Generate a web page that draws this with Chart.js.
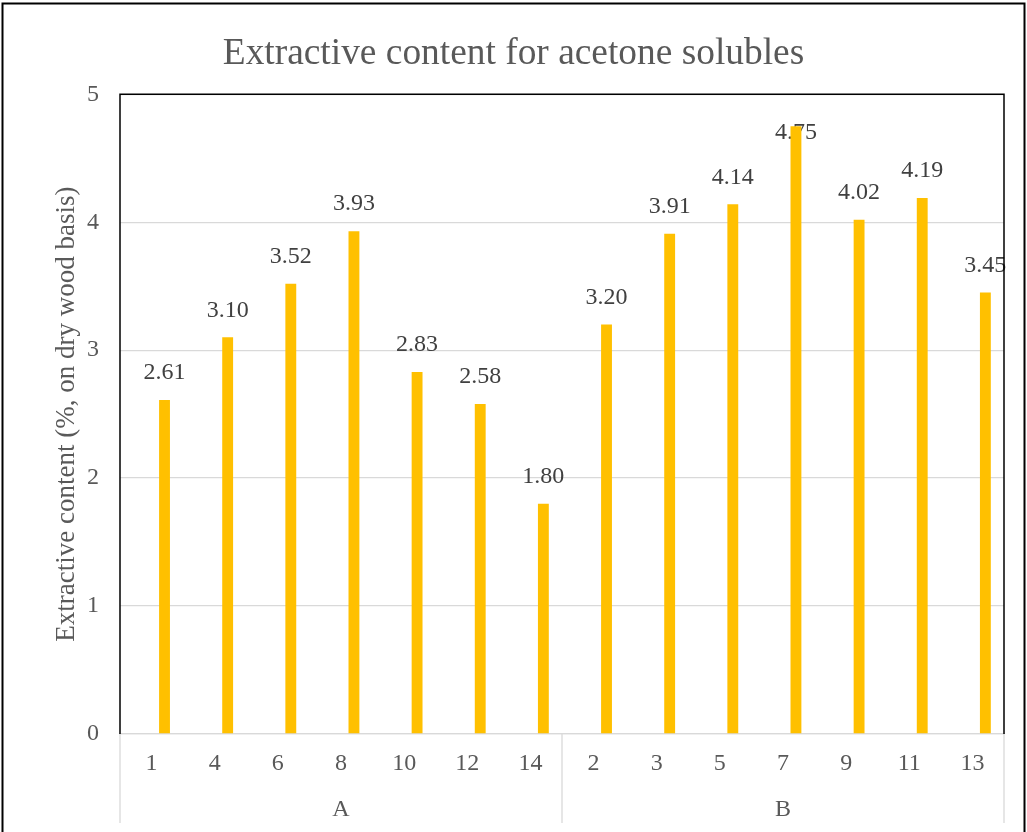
<!DOCTYPE html>
<html>
<head>
<meta charset="utf-8">
<title>Extractive content for acetone solubles</title>
<script src="https://cdn.jsdelivr.net/npm/chart.js@4/dist/chart.umd.min.js"></script>
<style>
  html, body { margin: 0; padding: 0; background: #ffffff; }
  #wrap { width: 1027px; height: 832px; position: relative; }
</style>
</head>
<body>
<div id="wrap"><canvas id="chart" width="1027" height="832"></canvas></div>
<script>
// Sample numbers along the x axis, in two groups
const sampleLabels = ['1', '4', '6', '8', '10', '12', '14', '2', '3', '5', '7', '9', '11', '13'];
const groupLabels = ['A', 'B'];
const groupSizes = [7, 7];
// Acetone-soluble extractive content (%, on dry wood basis)
const extractiveValues = [2.61, 3.10, 3.52, 3.93, 2.83, 2.58, 1.80, 3.20, 3.91, 4.14, 4.75, 4.02, 4.19, 3.45];
// Empty companion series (keeps each bar in the right half of its slot)
const emptySeries = sampleLabels.map(() => null);
const yTicks = [0, 1, 2, 3, 4, 5];

const SERIF = "'Liberation Serif', 'Times New Roman', serif";
const TEXT_GREY = '#595959';
const LABEL_GREY = '#404040';
const GRID_GREY = '#d9d9d9';
const BAR_COLOR = '#ffc000';

// Outer frame, plot border and group separators
const framePlugin = {
  id: 'frame',
  afterDraw(chart) {
    const { ctx, chartArea: a, scales } = chart;
    ctx.save();
    // group separators below the axis
    const x = scales.x;
    const x2 = scales.x2;
    const bottom = x2.bottom - 9;
    const edges = [a.left];
    let idx = 0;
    groupSizes.forEach(n => {
      idx += n;
      if (idx < sampleLabels.length) {
        edges.push((x.getPixelForValue(idx - 1) + x.getPixelForValue(idx)) / 2);
      }
    });
    edges.push(a.right);
    ctx.strokeStyle = GRID_GREY;
    ctx.lineWidth = 1.3;
    edges.forEach(px => {
      ctx.beginPath();
      ctx.moveTo(px, a.bottom);
      ctx.lineTo(px, bottom);
      ctx.stroke();
    });
    // plot border: left, top, right
    ctx.strokeStyle = '#000000';
    ctx.lineWidth = 1.5;
    ctx.beginPath();
    ctx.moveTo(a.left, a.bottom);
    ctx.lineTo(a.left, a.top);
    ctx.lineTo(a.right, a.top);
    ctx.lineTo(a.right, a.bottom);
    ctx.stroke();
    // outer chart frame
    ctx.lineWidth = 2;
    ctx.strokeRect(2.5, 3.5, 1022, 900);
    ctx.restore();
  }
};

// Value labels above each bar (moved inside when there is no room above)
const valueLabelPlugin = {
  id: 'valueLabels',
  beforeDatasetsDraw(chart) {
    const { ctx, chartArea: a } = chart;
    const meta = chart.getDatasetMeta(1);
    ctx.save();
    ctx.font = '24px ' + SERIF;
    ctx.fillStyle = LABEL_GREY;
    ctx.textAlign = 'center';
    ctx.textBaseline = 'middle';
    meta.data.forEach((bar, i) => {
      const v = extractiveValues[i];
      let y = bar.y - 27;
      if (y - 10 < a.top) y = bar.y + 6;
      ctx.fillText(v.toFixed(2), bar.x, y);
    });
    ctx.restore();
  }
};

new Chart(document.getElementById('chart'), {
  type: 'bar',
  data: {
    labels: sampleLabels,
    datasets: [
      { label: 'spacer', data: emptySeries, backgroundColor: BAR_COLOR },
      { label: 'Extractive content', data: extractiveValues, backgroundColor: BAR_COLOR }
    ]
  },
  options: {
    responsive: false,
    animation: false,
    events: [],
    categoryPercentage: 0.82,
    barPercentage: 0.42,
    layout: { padding: { left: 0, right: 0, top: 0, bottom: 0 } },
    plugins: {
      legend: { display: false },
      tooltip: { enabled: false },
      title: {
        display: true,
        text: 'Extractive content for acetone solubles',
        color: TEXT_GREY,
        font: { family: SERIF, size: 37.4, weight: 'normal' },
        padding: { top: 32, bottom: 17.4 }
      }
    },
    scales: {
      x: {
        type: 'category',
        position: 'bottom',
        offset: true,
        grid: { display: false, drawTicks: false },
        border: { display: true, color: GRID_GREY, width: 1.3 },
        ticks: { color: TEXT_GREY, font: { family: SERIF, size: 24 }, padding: 15.6, maxRotation: 0, autoSkip: false },
        afterFit(scale) { scale.height = 50; }
      },
      x2: {
        type: 'category',
        position: 'bottom',
        labels: groupLabels,
        offset: true,
        grid: { display: false, drawTicks: false },
        border: { display: false },
        ticks: { color: TEXT_GREY, font: { family: SERIF, size: 24 }, padding: 11.6, maxRotation: 0 },
        afterFit(scale) { scale.height = 48; }
      },
      y: {
        min: 0,
        max: 5,
        afterBuildTicks(scale) { scale.ticks = yTicks.map(v => ({ value: v })); },
        grid: { color: GRID_GREY, lineWidth: 1.3, drawTicks: false },
        border: { display: false },
        ticks: { color: TEXT_GREY, font: { family: SERIF, size: 24 }, padding: 21 },
        title: {
          display: true,
          text: 'Extractive content (%, on dry wood basis)',
          color: TEXT_GREY,
          font: { family: SERIF, size: 27 },
          padding: { top: 51, bottom: 0 }
        },
        afterFit(scale) { scale.width = 120; }
      },
      // blank margin on the right of the plot area
      yRight: {
        position: 'right',
        min: 0,
        max: 5,
        grid: { display: false, drawTicks: false },
        border: { display: false },
        ticks: { display: false },
        afterFit(scale) { scale.width = 23; }
      }
    }
  },
  plugins: [valueLabelPlugin, framePlugin]
});
</script>
</body>
</html>
